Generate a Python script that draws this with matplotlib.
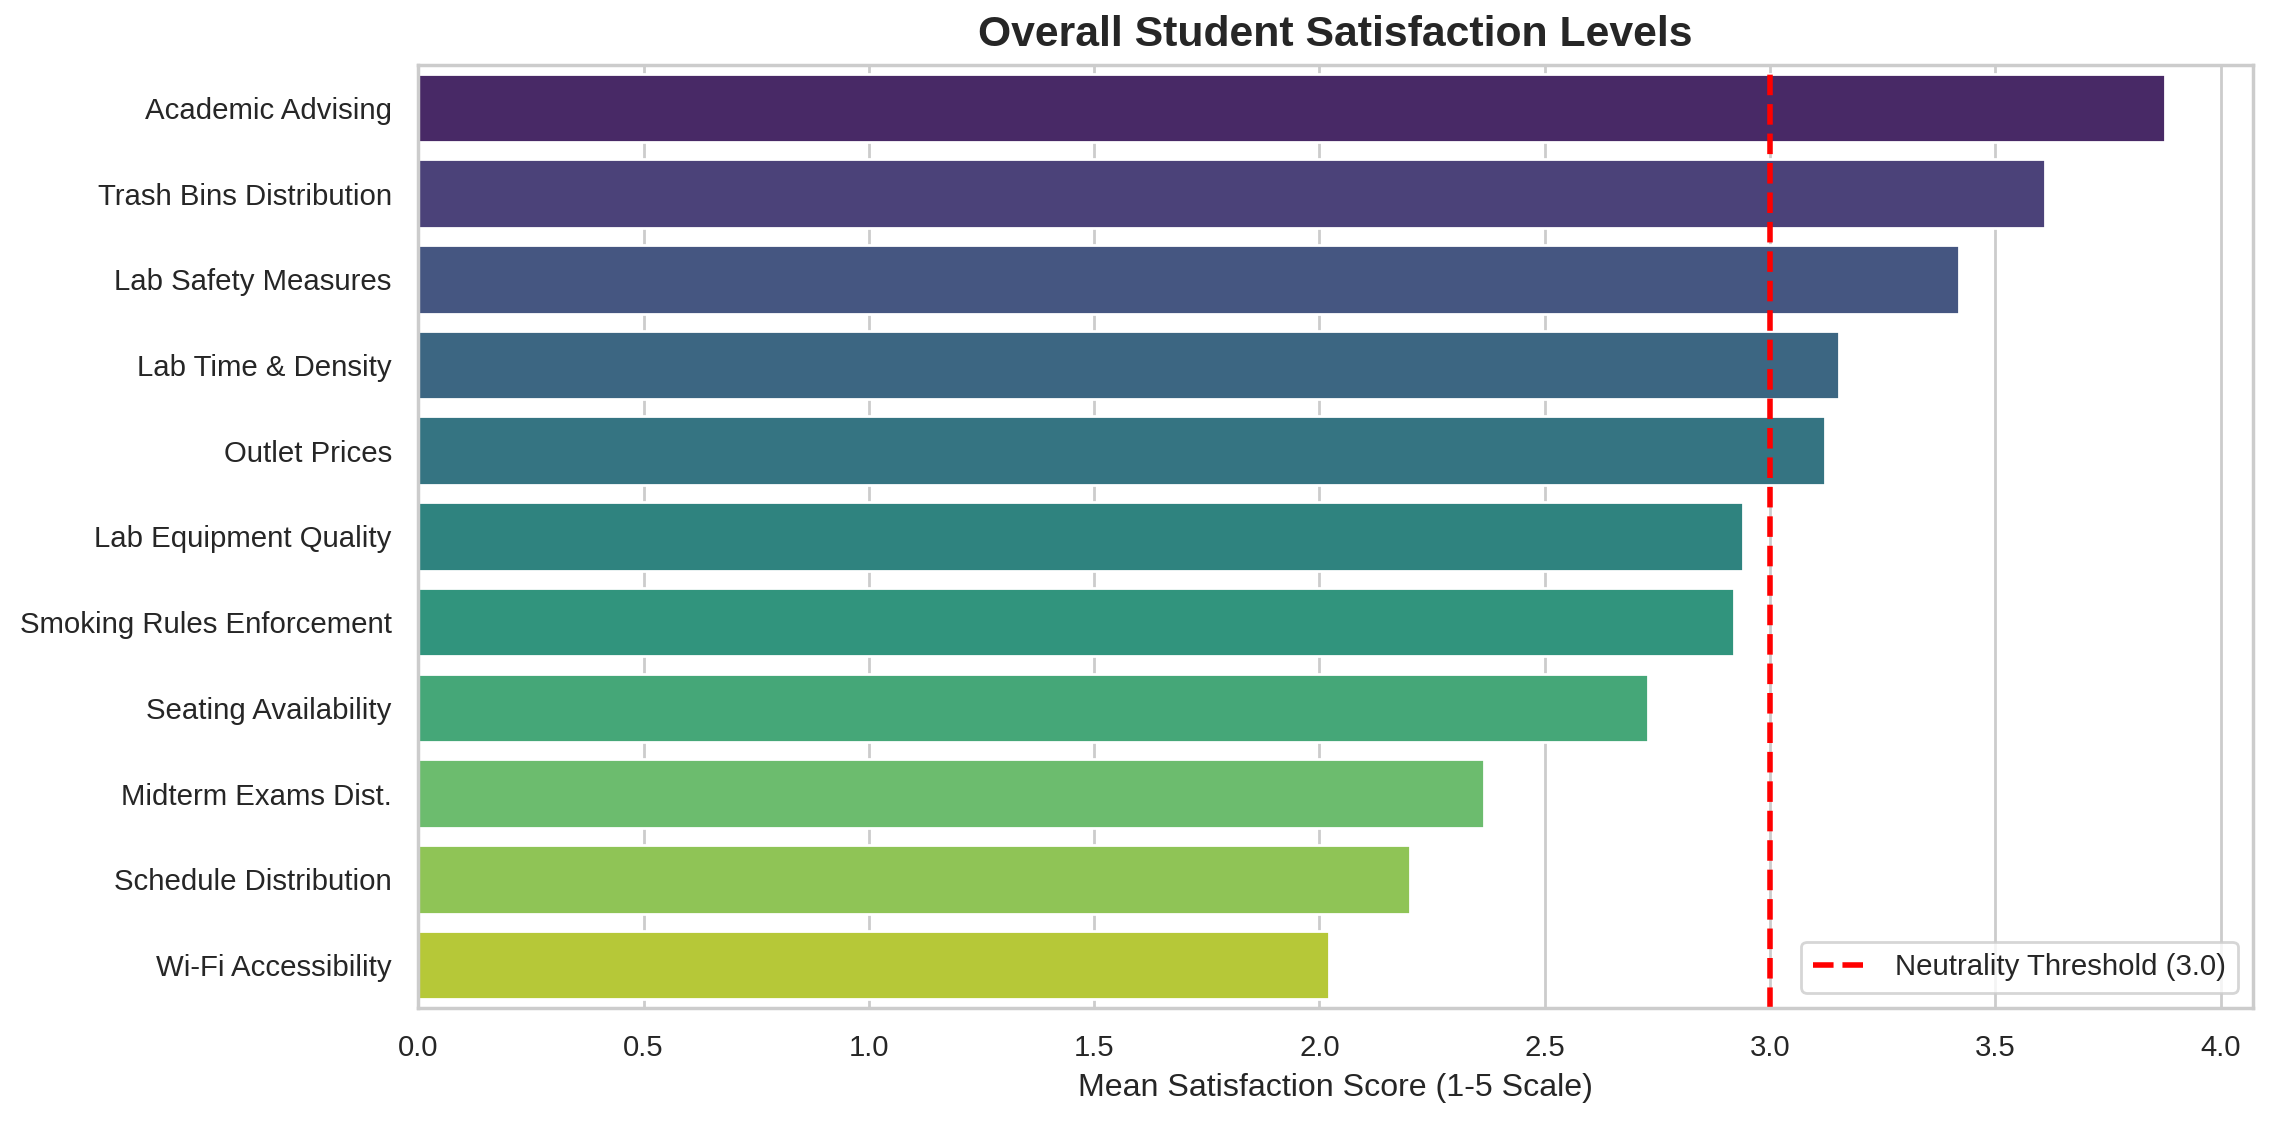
import matplotlib
matplotlib.use("Agg")
import matplotlib.pyplot as plt
import seaborn as sns
import pandas as pd

categories = [
    "Academic Advising",
    "Trash Bins Distribution",
    "Lab Safety Measures",
    "Lab Time & Density",
    "Outlet Prices",
    "Lab Equipment Quality",
    "Smoking Rules Enforcement",
    "Seating Availability",
    "Midterm Exams Dist.",
    "Schedule Distribution",
    "Wi-Fi Accessibility",
]
mean_scores = [3.877, 3.611, 3.419, 3.153, 3.121, 2.941, 2.921, 2.729, 2.366, 2.201, 2.022]
threshold = 3.0

df = pd.DataFrame({"Aspect": categories, "Score": mean_scores})

sns.set_theme(style="whitegrid")
plt.rcParams["font.family"] = ["Liberation Sans", "DejaVu Sans"]

fig, ax = plt.subplots(figsize=(11.365, 5.605), dpi=200)
fig.subplots_adjust(left=0.184, right=0.991, bottom=0.101, top=0.942)

sns.barplot(data=df, x="Score", y="Aspect", hue="Aspect", palette="viridis",
            legend=False, ax=ax)
ax.axvline(threshold, color="red", linestyle="--", linewidth=2,
           label="Neutrality Threshold (3.0)")

# text a touch smaller than seaborn's notebook defaults
ax.set_title("Overall Student Satisfaction Levels", fontsize=15.4, fontweight="bold", pad=7)
ax.set_xlabel("Mean Satisfaction Score (1-5 Scale)", fontsize=11.55)
ax.set_ylabel("")
ax.tick_params(axis="both", labelsize=10.6)
ax.legend(loc="lower right", fontsize=10.6)

fig.savefig("out.png", dpi=200)
